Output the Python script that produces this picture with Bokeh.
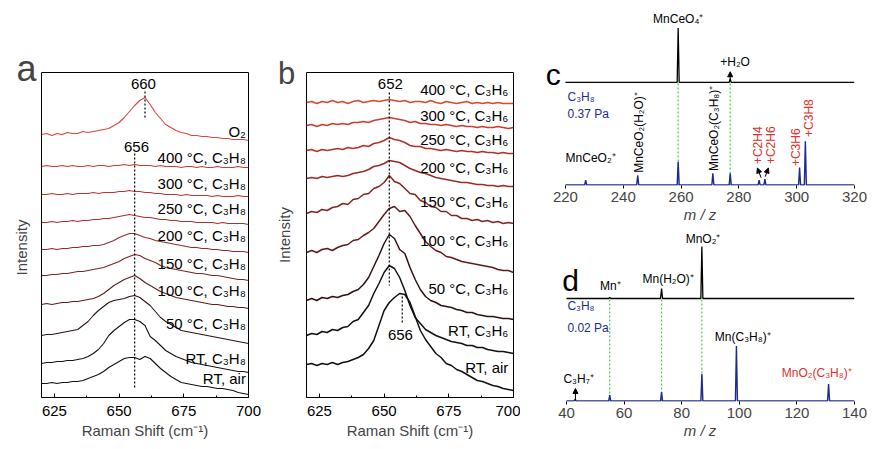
import numpy as np
from bokeh.plotting import figure
from bokeh.layouts import row, column
from bokeh.models import FixedTicker, Arrow, NormalHead, Range1d, Label
from bokeh.core.properties import value
from bokeh.embed import file_html
from bokeh.resources import INLINE

FONT = "Liberation Sans"

# ---------------- Raman data (arbitrary intensity units, stacked as drawn) ----------------
raman_shift = list(range(620, 701, 2))
raman_ticks = [625, 650, 675, 700]

# panel a : C3H8 series
a_o2 = [263,264,262,264,263,265,264,264,266,265,266,267,268,269,272,275,280,286,292,297,300,293,285,279,273,270,267,265,264,262,262,261,261,260,260,259,259,258,258,258,257]
a_400 = [231,232,231,231,232,231,232,231,231,232,231,232,232,231,232,232,233,232,233,232,232,232,231,232,231,231,231,230,231,231,230,231,230,230,231,230,230,230,231,230,230]
a_300 = [203,203,204,203,203,204,203,204,204,204,205,204,205,205,205,206,206,207,206,206,205,205,204,204,203,203,203,202,203,202,202,202,202,201,202,201,201,201,202,201,201]
a_250 = [175,175,176,175,176,176,177,176,177,177,178,178,179,179,180,181,182,183,182,181,180,180,179,178,178,177,177,176,176,176,175,175,175,175,174,175,174,174,174,174,173]
a_200 = [148,148,149,148,149,149,150,150,151,151,152,152,153,155,157,160,162,164,164,162,160,159,157,156,155,154,153,152,151,150,150,149,149,148,148,147,147,146,146,146,145]
a_150 = [122,122,123,123,124,124,125,126,126,127,128,129,130,132,134,136,139,141,143,142,139,137,135,132,130,129,128,127,126,125,124,124,123,122,122,121,120,119,118,118,117]
a_100 = [93,94,93,94,95,95,96,96,97,98,99,101,104,108,112,115,118,120,122,119,115,112,109,106,104,102,100,99,98,97,96,95,94,93,93,92,91,91,90,90,89]
a_50 = [62,63,63,64,65,66,67,68,72,76,82,87,91,95,97,98,99,101,102,100,96,92,86,80,76,73,70,67,66,65,64,63,62,61,60,59,58,57,56,55,54]
a_rt = [34,35,35,36,36,37,37,38,39,41,44,48,54,62,67,71,75,78,78,76,72,61,57,52,47,44,41,39,37,35,34,33,32,31,30,29,28,27,26,26,25]
a_air = [14,14,15,14,15,15,16,16,17,19,21,23,26,30,33,36,39,40,40,38,41,39,34,29,25,21,18,15,14,13,12,11,11,10,9,9,8,7,5,4,3]
a_names = ["O₂", "400 °C, C₃H₈", "300 °C, C₃H₈", "250 °C, C₃H₈", "200 °C, C₃H₈",
           "150 °C, C₃H₈", "100 °C, C₃H₈", "50 °C, C₃H₈", "RT, C₃H₈", "RT, air"]
a_peaks = [660, 656]

# panel b : C3H6 series
b_400 = [295,296,294,296,295,297,295,296,294,296,297,295,296,297,296,297,298,297,296,297,295,296,296,295,297,295,294,296,295,294,295,296,294,295,294,295,294,295,294,294,294]
b_300 = [272,273,271,273,272,274,273,274,273,275,275,276,275,277,278,279,280,279,278,277,275,276,274,274,273,273,272,273,272,271,272,271,271,270,271,270,270,271,270,269,270]
b_250 = [247,248,246,248,247,248,249,248,250,249,250,252,251,254,255,257,260,258,257,255,252,251,251,249,249,248,247,248,247,246,247,246,246,245,246,245,245,244,245,244,244]
b_200 = [219,220,219,221,220,221,222,221,222,224,225,226,228,231,232,234,237,236,235,232,229,227,225,224,222,220,219,218,217,216,215,215,214,213,213,212,212,211,212,211,211]
b_150 = [184,186,185,188,187,190,191,194,193,198,199,203,204,209,211,215,222,216,214,209,204,203,197,195,191,190,186,186,182,182,179,179,177,178,176,177,175,176,174,175,174]
b_100 = [145,147,145,148,149,147,150,152,153,157,158,162,165,169,176,183,189,191,186,187,181,172,164,156,151,147,145,141,140,138,136,135,134,133,132,131,130,128,127,127,125]
b_50 = [97,99,97,100,99,101,100,102,103,106,108,113,120,131,142,154,163,159,148,144,130,118,108,101,97,95,92,91,90,88,87,85,85,83,82,81,81,80,79,79,78]
b_rt = [62,64,63,66,65,68,67,70,71,76,78,85,92,104,114,125,132,129,120,107,92,80,74,68,65,62,60,58,56,55,54,52,52,50,50,48,47,46,46,45,44]
b_air = [33,34,32,34,33,35,33,35,36,38,40,43,49,57,72,87,95,100,104,103,95,81,67,58,51,44,40,34,32,28,26,23,20,17,16,14,12,11,9,8,7]
b_names = ["400 °C, C₃H₆", "300 °C, C₃H₆", "250 °C, C₃H₆", "200 °C, C₃H₆", "150 °C, C₃H₆",
           "100 °C, C₃H₆", "50 °C, C₃H₆", "RT, C₃H₆", "RT, air"]
b_peaks = [652, 656]

# ---------------- Mass spectra ----------------
c_ticks = [220, 240, 260, 280, 300, 320]
c_top_mz = [259, 277]
c_top_int = [56, 4]
c_bot_mz = [227, 245, 259, 271, 277, 287, 289, 301, 303]
c_bot_int = [5, 10, 24, 12, 12, 5, 6, 18, 45]
c_marks = [259, 277]

d_ticks = [40, 60, 80, 100, 120, 140]
d_top_mz = [55, 73, 87]
d_top_int = [1, 10, 52]
d_bot_mz = [43, 55, 73, 87, 99, 131]
d_bot_int = [2, 6, 9, 27, 55, 17]
d_marks = [55, 73, 87]

# ---------------- styling / layout constants ----------------
a_colors = ["#d8463f", "#cc3b36", "#bd3532", "#aa302d", "#962a28", "#7a2422",
            "#5e1d1c", "#2e1412", "#151111", "#111111"]
b_colors = ["#d8482c", "#c93c30", "#b2322b", "#9a2b26", "#802521", "#5e1c19",
            "#301110", "#111111", "#111111"]
a_label_y = [266, 240, 214, 189, 162, 134, 107, 74, 39, 19]
b_label_y = [308, 282, 258, 230, 196, 157, 109, 67, 30]
NAVY = "#1e2b8e"
RED = "#e0312b"
GREEN = "#44cc44"
NBSP = "\u00a0"


def style_raman(p, ylabel, ystandoff):
    p.grid.visible = False
    p.outline_line_color = "black"
    p.outline_line_width = 1
    ax = p.xaxis[0]
    ax.ticker = FixedTicker(ticks=raman_ticks, minor_ticks=[637.5, 662.5, 687.5])
    ax.major_tick_in = 4
    ax.major_tick_out = 0
    ax.minor_tick_in = 2
    ax.minor_tick_out = 0
    ax.major_label_text_font = FONT
    ax.major_label_text_font_size = "15px"
    ax.major_label_text_color = "black"
    ax.major_label_standoff = 8
    ax.axis_label = "Raman Shift (cm⁻¹)"
    ax.axis_label_text_font = FONT
    ax.axis_label_text_font_size = "15px"
    ax.axis_label_text_font_style = "normal"
    ax.axis_label_standoff = 3
    ay = p.yaxis[0]
    ay.ticker = FixedTicker(ticks=[])
    ay.major_tick_out = 0
    ay.major_tick_in = 0
    ay.minor_tick_out = 0
    ay.major_label_standoff = 0
    ay.axis_line_color = None
    ay.axis_label = ylabel
    ay.axis_label_text_font = FONT
    ay.axis_label_text_font_size = "15px"
    ay.axis_label_text_font_style = "normal"
    ay.axis_label_standoff = ystandoff


def panel_letter(p, x, y, letter, size):
    # placed in the top side panel so it is not clipped to the frame
    p.add_layout(Label(x=x, y=y, text=letter, text_font=FONT, text_font_size=size,
                       text_align="center", text_baseline="middle"), "above")


# ---------------- panel a ----------------
pa = figure(width=262, height=449, x_range=Range1d(620, 700), y_range=Range1d(0, 325),
            output_backend="svg", toolbar_location=None,
            min_border_left=41, min_border_right=14, min_border_top=72, min_border_bottom=52)
style_raman(pa, "Intensity" + NBSP * 6, 12)
a_series = [a_o2, a_400, a_300, a_250, a_200, a_150, a_100, a_50, a_rt, a_air]
for ys, col in zip(a_series, a_colors):
    pa.line(raman_shift, ys, line_color=col, line_width=1.1)
pa.text(x=[699] * len(a_names), y=a_label_y, text=a_names, text_align="right",
        text_baseline="middle", text_font=value(FONT), text_font_size="15px", text_color="black")
pa.text(x=[a_peaks[0] - 0.6, a_peaks[1] + 0.7], y=[314, 251], text=[str(v) for v in a_peaks],
        text_align="center", text_baseline="middle", text_font=value(FONT),
        text_font_size="15px", text_color="black")
pa.segment(x0=[a_peaks[0], a_peaks[1]], y0=[306, 244], x1=[a_peaks[0], a_peaks[1]], y1=[278, 10],
           line_color="black", line_dash="2 2", line_width=1.2)
panel_letter(pa, 614.2, 329, "a", "36px")

# ---------------- panel b ----------------
pb = figure(width=258, height=449, x_range=Range1d(620, 700), y_range=Range1d(0, 325),
            output_backend="svg", toolbar_location=None,
            min_border_left=44, min_border_right=7, min_border_top=72, min_border_bottom=52)
style_raman(pb, "Intensity", 14)
b_series = [b_400, b_300, b_250, b_200, b_150, b_100, b_50, b_rt, b_air]
for ys, col in zip(b_series, b_colors):
    pb.line(raman_shift, ys, line_color=col, line_width=1.5)
pb.text(x=[698] * len(b_names), y=b_label_y, text=b_names, text_align="right",
        text_baseline="middle", text_font=value(FONT), text_font_size="15px", text_color="black")
pb.text(x=[b_peaks[0] + 0.4, b_peaks[1] + 0.3], y=[314, 63], text=[str(v) for v in b_peaks],
        text_align="center", text_baseline="middle", text_font=value(FONT),
        text_font_size="15px", text_color="black")
pb.segment(x0=[b_peaks[0], b_peaks[1] + 1], y0=[305, 101], x1=[b_peaks[0], b_peaks[1] + 1], y1=[112, 75],
           line_color="black", line_dash="2 2", line_width=1.2)
panel_letter(pb, 612.3, 324, "b", "31px")


# ---------------- mass spectra helpers ----------------
def stick_trace(mz, inten, offset, lo, hi):
    xs, ys = [lo], [offset]
    for m, h in sorted(zip(mz, inten)):
        xs += [m - 0.35, m, m + 0.35]
        ys += [offset, offset + h, offset]
    xs.append(hi)
    ys.append(offset)
    return xs, ys


def style_ms(p, ticks):
    p.grid.visible = False
    p.outline_line_color = None
    p.yaxis.visible = False
    ax = p.xaxis[0]
    ax.ticker = FixedTicker(ticks=ticks)
    ax.major_tick_out = 3
    ax.major_tick_in = 0
    ax.minor_tick_out = 0
    ax.minor_tick_in = 0
    ax.axis_line_color = None
    ax.major_label_text_font = FONT
    ax.major_label_text_font_size = "15px"
    ax.major_label_standoff = 3
    ax.axis_label = "m / z"
    ax.axis_label_text_font = FONT
    ax.axis_label_text_font_size = "15px"
    ax.axis_label_text_font_style = "italic"
    ax.axis_label_standoff = 1


def add_text(p, xs, ys, texts, color="black", align="center", angle=0.0, size="12px"):
    p.text(x=xs, y=ys, text=texts, angle=angle, text_align=align, text_baseline="middle",
           text_font=value(FONT), text_font_size=size, text_color=color)


# ---------------- panel c ----------------
C_TOP = 106
pc = figure(width=360, height=225, x_range=Range1d(213.1, c_ticks[-1]), y_range=Range1d(0, 180),
            output_backend="svg", toolbar_location=None,
            min_border_left=25, min_border_right=26, min_border_top=10, min_border_bottom=35)
style_ms(pc, c_ticks)
pc.segment(x0=c_marks, y0=[0] * len(c_marks), x1=c_marks, y1=[C_TOP] * len(c_marks),
           line_color=GREEN, line_dash="2 2", line_width=1.2)
xs, ys = stick_trace(c_top_mz, c_top_int, C_TOP, c_ticks[0], c_ticks[-1])
pc.line(xs, ys, line_color="black", line_width=1.3)
xs, ys = stick_trace(c_bot_mz, c_bot_int, 0.5, c_ticks[0], c_ticks[-1])
pc.line(xs, ys, line_color=NAVY, line_width=1.4)
add_text(pc, [259, 278.7, 228.7], [171, 127, 28], ["MnCeO₄⁺", "+H₂O", "MnCeO₂⁺"])
add_text(pc, [220.7, 220.7], [91, 74], ["C₃H₈", "0.37 Pa"], color=NAVY, align="left")
add_text(pc, [245.3, 271.4], [13, 15], ["MnCeO₂(H₂O)⁺", "MnCeO₂(C₃H₈)⁺"], align="left", angle=np.pi / 2)
add_text(pc, [286.7, 291.2, 299.9, 304.4], [22, 22, 20, 50], ["+C2H4", "+C2H6", "+C3H6", "+C3H8"],
         color=RED, align="left", angle=np.pi / 2)
for x0, y0, x1, y1 in [(277, C_TOP + 1, 277, C_TOP + 11), (287.7, 8, 286.4, 18), (289.1, 9, 290.2, 18)]:
    pc.add_layout(Arrow(end=NormalHead(size=5, fill_color="black", line_color="black"),
                        x_start=x0, y_start=y0, x_end=x1, y_end=y1, line_width=1, line_color="black"))
add_text(pc, [213.2], [114], ["c"], align="left", size="30px")

# ---------------- panel d ----------------
D_TOP = 103
pd_ = figure(width=360, height=224, x_range=Range1d(32.7, d_ticks[-1]), y_range=Range1d(0, 170),
             output_backend="svg", toolbar_location=None,
             min_border_left=25, min_border_right=26, min_border_top=6, min_border_bottom=48)
style_ms(pd_, d_ticks)
pd_.segment(x0=d_marks, y0=[0] * len(d_marks), x1=d_marks, y1=[D_TOP] * len(d_marks),
            line_color=GREEN, line_dash="2 2", line_width=1.2)
xs, ys = stick_trace(d_top_mz, d_top_int, D_TOP, d_ticks[0], d_ticks[-1])
pd_.line(xs, ys, line_color="black", line_width=1.3)
xs, ys = stick_trace(d_bot_mz, d_bot_int, 0.5, d_ticks[0], d_ticks[-1])
pd_.line(xs, ys, line_color=NAVY, line_width=1.4)
add_text(pd_, [87.4, 75.3, 55.2, 101.2, 44.2], [163, 123, 116, 65, 23],
         ["MnO₂⁺", "Mn(H₂O)⁺", "Mn⁺", "Mn(C₃H₈)⁺", "C₃H₇⁺"])
add_text(pd_, [40.3, 40.3], [96, 74], ["C₃H₈", "0.02 Pa"], color=NAVY, align="left")
add_text(pd_, [126.9], [29], ["MnO₂(C₃H₈)⁺"], color=RED)
pd_.add_layout(Arrow(end=NormalHead(size=5, fill_color="black", line_color="black"),
                     x_start=43.1, y_start=1, x_end=43.1, y_end=13, line_width=1, line_color="black"))
add_text(pd_, [41.4], [121], ["d"], size="30px")

layout = row(pa, pb, column(pc, pd_))
open("out.html", "w").write(file_html(layout, INLINE))
